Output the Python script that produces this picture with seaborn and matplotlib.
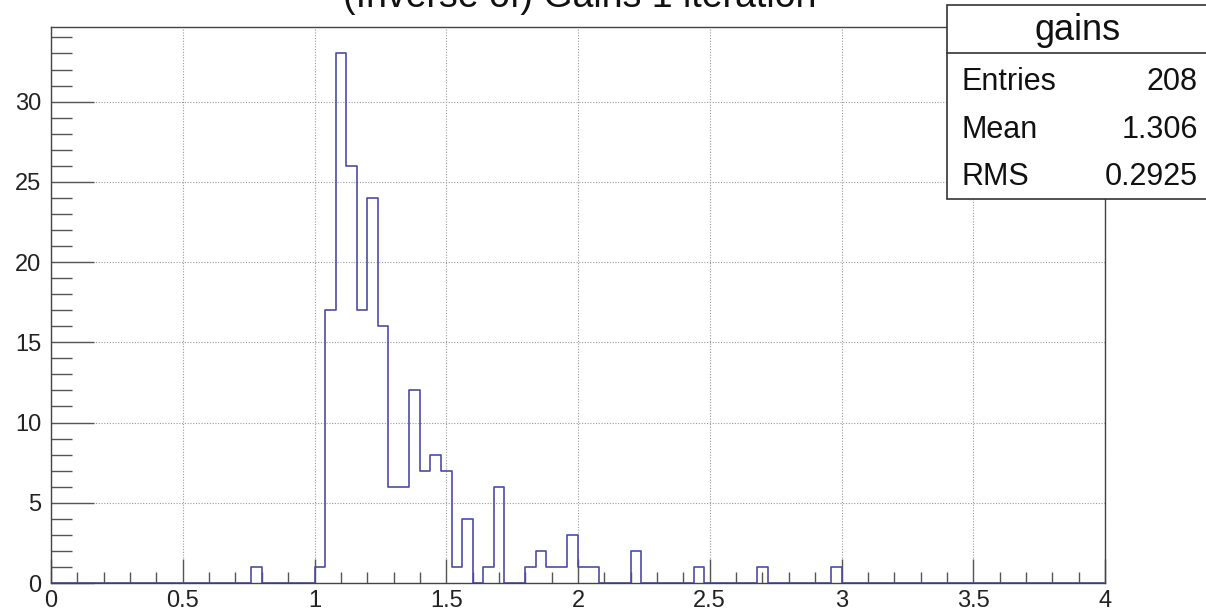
import numpy as np
import pandas as pd
import matplotlib
matplotlib.use("Agg")
import matplotlib.pyplot as plt
import seaborn as sns
from matplotlib.ticker import MultipleLocator, FuncFormatter
from matplotlib.patches import Rectangle
from matplotlib.lines import Line2D

# Histogram contents: 100 bins of width 0.04 on [0, 4]
bin_edges = [round(0.04 * i, 2) for i in range(101)]
bin_lows = [0.76, 1.00, 1.04, 1.08, 1.12, 1.16, 1.20, 1.24, 1.28, 1.32, 1.36,
            1.40, 1.44, 1.48, 1.52, 1.56, 1.64, 1.68, 1.80, 1.84, 1.88, 1.92,
            1.96, 2.00, 2.04, 2.20, 2.44, 2.68, 2.96]
bin_counts = [1, 1, 17, 33, 26, 17, 24, 16, 6, 6, 12,
              7, 8, 7, 1, 4, 1, 6, 1, 2, 1, 1,
              3, 1, 1, 2, 1, 1, 1]

hist_name = "gains"
title = "(Inverse of) Gains 1 iteration"
stats_labels = ["Entries", "Mean", "RMS"]
stats_values = ["208", "1.306", "0.2925"]

sns.set_theme(style="white")
plt.rcParams["font.family"] = ["Liberation Sans", "DejaVu Sans"]

fig = plt.figure(figsize=(12.06, 6.10), dpi=100)
ax = fig.add_axes([51 / 1206, 27 / 610, 1054 / 1206, 556 / 610])

df = pd.DataFrame({"gain": np.array(bin_lows) + 0.02, "count": bin_counts})
sns.histplot(data=df, x="gain", weights="count", bins=bin_edges, element="step",
             fill=False, color="#4b4ba6", linewidth=1.2, ax=ax)

ax.set_xlim(0, 4)
ax.set_ylim(0, 34.65)
ax.set_xlabel("")
ax.set_ylabel("")

ax.xaxis.set_major_locator(MultipleLocator(0.5))
ax.xaxis.set_minor_locator(MultipleLocator(0.1))
ax.yaxis.set_major_locator(MultipleLocator(5))
ax.yaxis.set_minor_locator(MultipleLocator(1))
ax.xaxis.set_major_formatter(FuncFormatter(lambda v, p: f"{v:g}"))
ax.yaxis.set_major_formatter(FuncFormatter(lambda v, p: f"{v:g}"))

ax.tick_params(axis="both", which="both", direction="in", colors="#555555",
               labelcolor="#222222", labelsize=17, bottom=True, left=True,
               top=False, right=False)
ax.tick_params(axis="x", which="major", length=17, width=1, pad=5)
ax.tick_params(axis="x", which="minor", length=8, width=1)
ax.tick_params(axis="y", which="major", length=31, width=1, pad=7)
ax.tick_params(axis="y", which="minor", length=15, width=1)

ax.grid(True, which="major", linestyle=(0, (1, 1.5)), color="#9a9a9a", linewidth=0.8)
ax.set_axisbelow(True)
for s in ax.spines.values():
    s.set_color("#444444")
    s.set_linewidth(1.0)

# Title, partly above the canvas edge
fig.text(580 / 1206, 1 - 7 / 610, title, ha="center", va="baseline",
         fontsize=27, color="#111111")

# Statistics box
x0, x1 = 947 / 1206, 1.01
y_top, y_bot = 1 - 5 / 610, 1 - 199 / 610
fig.patches.append(Rectangle((x0, y_bot), x1 - x0, y_top - y_bot,
                             transform=fig.transFigure, facecolor="white",
                             edgecolor="#333333", linewidth=1.2, zorder=5))
fig.lines.append(Line2D([x0, x1], [1 - 53 / 610] * 2, transform=fig.transFigure,
                        color="#333333", linewidth=1.2, zorder=6))
fig.text(1078 / 1206, 1 - 31 / 610, hist_name, ha="center",
         va="center", fontsize=26, color="#111111", zorder=7)
for i, (lab, val) in enumerate(zip(stats_labels, stats_values)):
    y = 1 - (82 + 47.5 * i) / 610
    fig.text(962 / 1206, y, lab, ha="left", va="center", fontsize=22,
             color="#111111", zorder=7)
    fig.text(1198 / 1206, y, val, ha="right", va="center", fontsize=22,
             color="#111111", zorder=7)

fig.savefig("out.png", dpi=100, facecolor="white")
